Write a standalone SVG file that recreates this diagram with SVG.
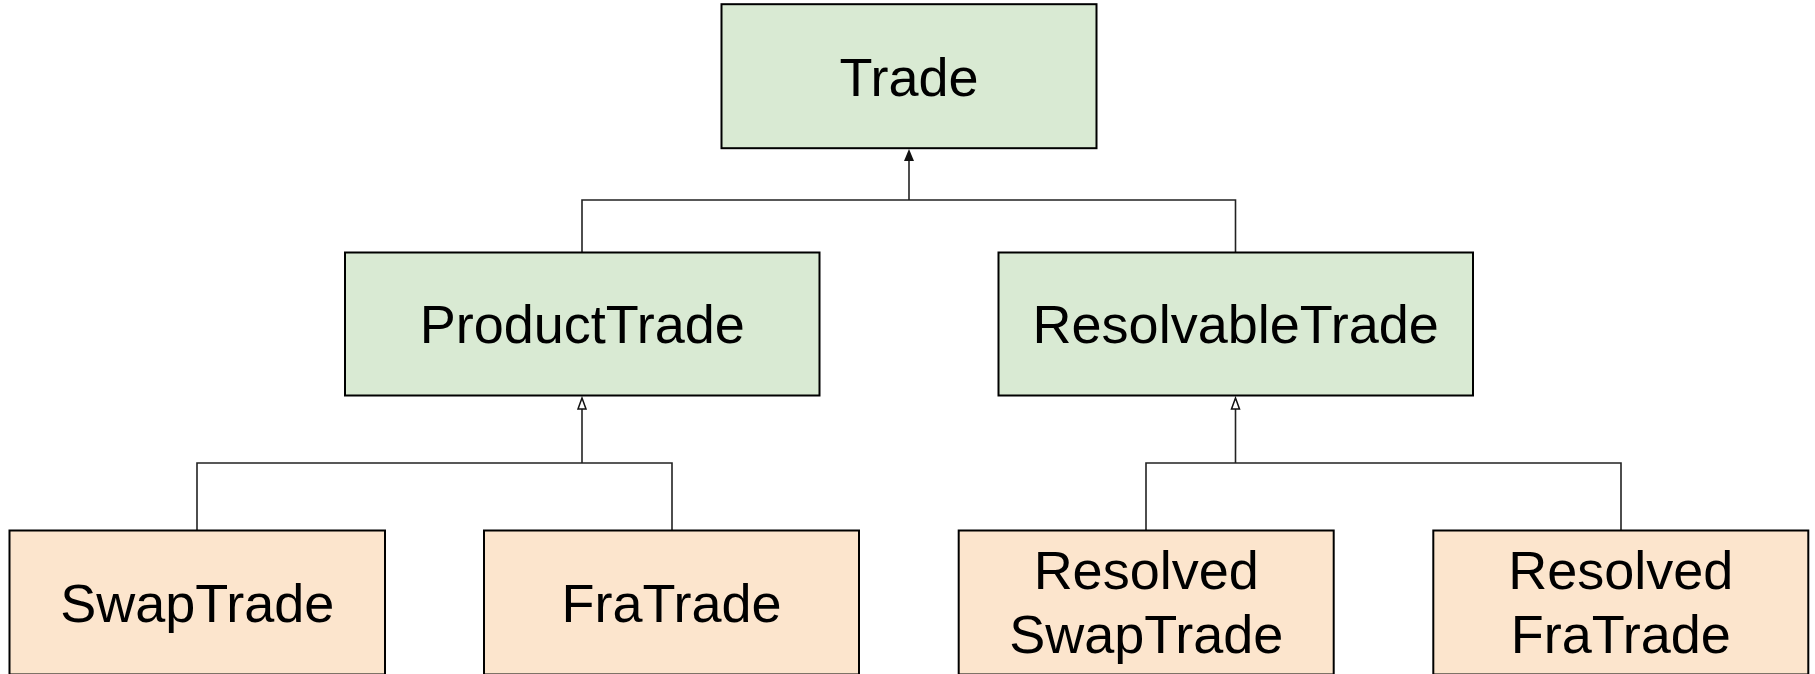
<svg xmlns="http://www.w3.org/2000/svg" width="1815" height="674" viewBox="0 0 1815 674">
  <style>
    .box { stroke: #000; stroke-width: 2; }
    .base { fill: #d9ead3; }
    .leaf { fill: #fce5cd; }
    .label { font-family: "Liberation Sans", Arial, sans-serif; font-size: 54px; fill: #000; text-anchor: middle; }
    .wire { fill: none; stroke: #222; stroke-width: 1.6; }
  </style>
  <defs>
    <marker id="head-solid" markerUnits="userSpaceOnUse" markerWidth="12" markerHeight="10" viewBox="0 0 12 10" refX="0" refY="5" orient="auto">
      <path d="M0,0 L12,5 L0,10 z" fill="#111"/>
    </marker>
    <marker id="head-open" markerUnits="userSpaceOnUse" markerWidth="14" markerHeight="11" viewBox="-1 -1 14 11" refX="0" refY="4.5" orient="auto">
      <path d="M0,0.5 L11,4.5 L0,8.5 z" fill="#fff" stroke="#111" stroke-width="1.5" stroke-linejoin="miter"/>
    </marker>
  </defs>

  <rect width="1815" height="674" fill="#fff"/>

  <!-- connectors -->
  <g id="connectors">
    <path class="wire" d="M582,252.5 V200 H1235.5 V252.5"/>
    <path class="wire" d="M909,200 V161" marker-end="url(#head-solid)"/>
    <path class="wire" d="M197,530.5 V463 H672 V530.5"/>
    <path class="wire" d="M582,463 V409" marker-end="url(#head-open)"/>
    <path class="wire" d="M1146,530.5 V463 H1621 V530.5"/>
    <path class="wire" d="M1235.5,463 V409" marker-end="url(#head-open)"/>
  </g>

  <!-- top level -->
  <g id="trade">
    <rect class="box base" x="721.5" y="4.2" width="375" height="144"/>
    <text class="label" x="909" y="96">Trade</text>
  </g>

  <!-- second level -->
  <g id="product-trade">
    <rect class="box base" x="345" y="252.5" width="474.5" height="143"/>
    <text class="label" x="582.3" y="343">ProductTrade</text>
  </g>
  <g id="resolvable-trade">
    <rect class="box base" x="998.5" y="252.5" width="474.5" height="143"/>
    <text class="label" x="1235.7" y="343">ResolvableTrade</text>
  </g>

  <!-- leaves -->
  <g id="swap-trade">
    <rect class="box leaf" x="9.5" y="530.5" width="375.5" height="144"/>
    <text class="label" x="197.3" y="621.7">SwapTrade</text>
  </g>
  <g id="fra-trade">
    <rect class="box leaf" x="484" y="530.5" width="375" height="144"/>
    <text class="label" x="671.5" y="621.7">FraTrade</text>
  </g>
  <g id="resolved-swap-trade">
    <rect class="box leaf" x="958.7" y="530.5" width="375" height="144"/>
    <text class="label" x="1146.2" y="589.3">Resolved</text>
    <text class="label" x="1146.2" y="653.3">SwapTrade</text>
  </g>
  <g id="resolved-fra-trade">
    <rect class="box leaf" x="1433.3" y="530.5" width="375" height="144"/>
    <text class="label" x="1620.8" y="589.3">Resolved</text>
    <text class="label" x="1620.8" y="653.3">FraTrade</text>
  </g>
</svg>
